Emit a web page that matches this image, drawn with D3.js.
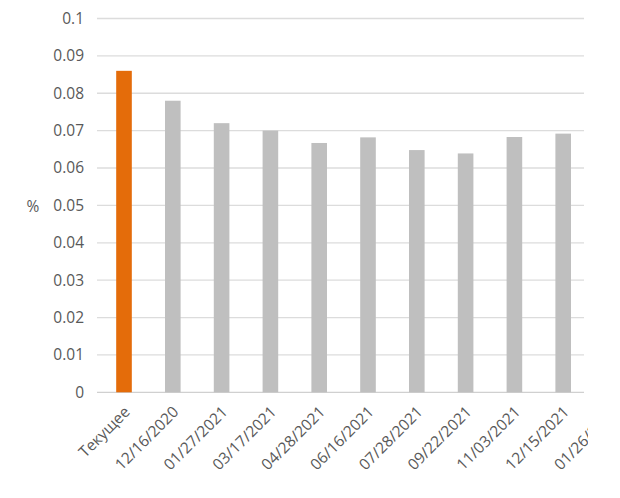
<!DOCTYPE html>
<html><head><meta charset="utf-8">
<script src="https://cdn.jsdelivr.net/npm/d3@7"></script>
<style>html,body{margin:0;padding:0;background:#fff;} svg{display:block;}</style>
</head><body>
<div id="chart"></div>
<script>
const categories = ["Текущее","12/16/2020","01/27/2021","03/17/2021","04/28/2021","06/16/2021","07/28/2021","09/22/2021","11/03/2021","12/15/2021","01/26/2022"];
const values = [0.086,0.078,0.072,0.070,0.0667,0.0682,0.0648,0.0639,0.0683,0.0692,0.069];
const yTicks = [0,0.01,0.02,0.03,0.04,0.05,0.06,0.07,0.08,0.09,0.1];
const yTickLabels = ["0","0.01","0.02","0.03","0.04","0.05","0.06","0.07","0.08","0.09","0.1"];
const yTitle = "%";

const W = 620, H = 498;
const left = 99.6, bandW = 48.8, clipX = 588;
const svg = d3.select("#chart").append("svg").attr("width", W).attr("height", H)
  .style("font-family", "'Open Sans', sans-serif");

svg.append("defs").append("clipPath").attr("id","clip")
  .append("rect").attr("x",0).attr("y",0).attr("width",clipX).attr("height",H);
const g = svg.append("g").attr("clip-path","url(#clip)");

const x = d3.scaleBand().domain(categories).range([left, left + bandW*categories.length]).paddingInner(0.68).paddingOuter(0.34);
const y = d3.scaleLinear().domain([0,0.1]).range([392.3, 18.5]);

// gridlines
g.append("g").selectAll("line").data(yTicks).join("line")
  .attr("x1", 97).attr("x2", 584)
  .attr("y1", d => y(d)).attr("y2", d => y(d))
  .attr("stroke", d => d === 0 ? "#d0d0d0" : "#dcdcdc").attr("stroke-width", 1.3);

// y axis labels
const yAxis = d3.axisLeft(y).tickValues(yTicks).tickSize(0).tickPadding(0)
  .tickFormat((d,i) => yTickLabels[i]);
const ya = g.append("g").attr("transform","translate(84,0)").call(yAxis);
ya.select(".domain").remove();
ya.selectAll("text").attr("fill","#595959").style("font-size","15.5px").style("font-family","'Open Sans', sans-serif");

// bars
g.append("g").selectAll("rect").data(categories).join("rect")
  .attr("x", d => x(d)).attr("width", x.bandwidth())
  .attr("y", (d,i) => y(values[i])).attr("height", (d,i) => y(0) - y(values[i]))
  .attr("fill", (d,i) => i === 0 ? "#E46C0A" : "#BFBFBF");

// x labels
const xAxis = d3.axisBottom(x).tickSize(0).tickPadding(0);
const xa = g.append("g").attr("transform","translate(0,409)").call(xAxis);
xa.select(".domain").remove();
xa.selectAll("text").attr("fill","#595959").style("font-size","15.5px").style("font-family","'Open Sans', sans-serif")
  .attr("text-anchor","end").attr("dy","0.35em").attr("y",0)
  .attr("transform","translate(3,0) rotate(-45)");

// y title
svg.append("text").attr("x", 33).attr("y", 212).attr("text-anchor","middle")
  .attr("fill","#595959").style("font-size","15.5px").text(yTitle);
</script>
</body></html>
